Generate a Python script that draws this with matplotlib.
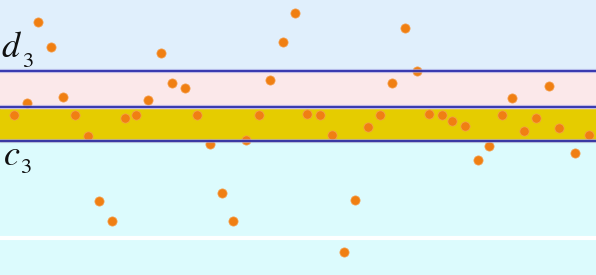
import matplotlib
matplotlib.use("Agg")
import matplotlib.pyplot as plt

# data (x position, height of each point)
xs = [14, 27, 38, 51, 63, 75, 88, 99, 112, 125, 136, 148, 161, 172, 185, 197,
      210, 222, 233, 246, 259, 270, 283, 295, 307, 320, 332, 344, 355, 368, 380, 392,
      405, 417, 429, 442, 452, 465, 478, 489, 502, 512, 524, 536, 549, 559, 575, 589]
ys = [160, 172, 253, 228, 178, 160, 139, 74, 54, 157, 160, 175, 222, 192, 187, 160,
      131, 82, 54, 135, 160, 195, 233, 262, 161, 160, 140, 23, 75, 148, 160, 192,
      247, 204, 161, 160, 154, 149, 115, 129, 160, 177, 144, 157, 189, 147, 122, 140]

# levels
c3 = 134
mid = 168
d3 = 204
yellow_top = 167
white_level = 37
letters = ["d", "c"]
subs = ["3", "3"]

plt.rcParams["mathtext.fontset"] = "stix"

fig = plt.figure(figsize=(5.96, 2.75), dpi=100)
ax = fig.add_axes([0, 0, 1, 1])
ax.set_xlim(0, 596)
ax.set_ylim(0, 275)
ax.axis("off")

ax.axhspan(0, c3, color="#dcfbfd", zorder=0)
ax.axhspan(c3, yellow_top, color="#e5cc00", zorder=0)
ax.axhspan(yellow_top, d3, color="#fbe8ea", zorder=0)
ax.axhspan(d3, 275, color="#e0effc", zorder=0)
ax.axhline(white_level, color="white", lw=3.0, zorder=1)

ax.scatter(xs, ys, s=44, color="#f07f12", edgecolors="#f5a050", linewidths=0.5, zorder=3)

for lvl in (c3, mid, d3):
    ax.axhline(lvl, color="#9a9ae0", lw=3.0, alpha=0.6, zorder=4)
    ax.axhline(lvl, color="#2a2aa8", lw=1.4, alpha=0.9, zorder=5)

# labels: italic letter with a lowered subscript
ax.text(1, 218, "$" + letters[0] + "$", fontsize=26, color="#111111",
        ha="left", va="baseline", zorder=6)
ax.text(22, 208, "$" + subs[0] + "$", fontsize=16, color="#111111",
        ha="left", va="baseline", zorder=6)
ax.text(3, 110, "$" + letters[1] + "$", fontsize=26, color="#111111",
        ha="left", va="baseline", zorder=6)
ax.text(20, 102, "$" + subs[1] + "$", fontsize=16, color="#111111",
        ha="left", va="baseline", zorder=6)

fig.savefig("out.png", dpi=100)
